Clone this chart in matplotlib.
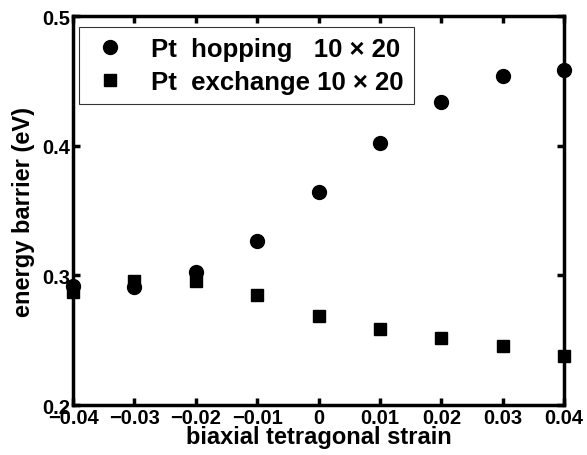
import matplotlib
matplotlib.use("Agg")
import matplotlib.pyplot as plt

strain = [-0.04, -0.03, -0.02, -0.01, 0.0, 0.01, 0.02, 0.03, 0.04]
hopping = [0.292, 0.291, 0.3025, 0.3265, 0.364, 0.402, 0.4336, 0.4537, 0.458]
exchange = [0.287, 0.2956, 0.296, 0.285, 0.2686, 0.2586, 0.2517, 0.2455, 0.2378]
xticks = [-0.04, -0.03, -0.02, -0.01, 0, 0.01, 0.02, 0.03, 0.04]
xticklabels = ["\u22120.04", "\u22120.03", "\u22120.02", "\u22120.01", "0", "0.01", "0.02", "0.03", "0.04"]
yticks = [0.2, 0.3, 0.4, 0.5]

plt.rcParams['font.family'] = ['Liberation Sans', 'DejaVu Sans']
plt.rcParams['font.weight'] = 'bold'

fig = plt.figure(figsize=(5.87, 4.56), dpi=100)
ax = fig.add_axes([0.1244, 0.1096, 0.8366, 0.8531])

ax.plot(strain, hopping, 'o', color='black', ms=10, clip_on=False,
        label='Pt  hopping   10 \u00d7 20', zorder=5)
ax.plot(strain, exchange, 's', color='black', ms=8.5, clip_on=False,
        label='Pt  exchange 10 \u00d7 20', zorder=5)

ax.set_xlim(-0.04, 0.04)
ax.set_ylim(0.2, 0.5)
ax.set_xticks(xticks)
ax.set_xticklabels(xticklabels)
ax.set_yticks(yticks)
ax.set_yticklabels(["0.2", "0.3", "0.4", "0.5"])
for s in ax.spines.values():
    s.set_linewidth(2.5)
ax.tick_params(direction='in', length=5, width=2.5, labelsize=14.5, pad=2,
               top=True, right=True)
for lab in ax.get_xticklabels() + ax.get_yticklabels():
    lab.set_fontweight('bold')

ax.set_xlabel('biaxial tetragonal strain', fontsize=17, fontweight='bold', labelpad=-1)
ax.set_ylabel('energy barrier (eV)', fontsize=17, fontweight='bold', labelpad=5)

leg = ax.legend(loc='upper left', bbox_to_anchor=(0.012, 0.972), borderaxespad=0,
                frameon=True, fancybox=False, edgecolor='black', borderpad=0.4,
                handlelength=1.6, handletextpad=0.8, labelspacing=0.35,
                prop={'weight': 'bold', 'size': 18.5})
leg.get_frame().set_linewidth(0.8)

fig.savefig('out.png', dpi=100)
